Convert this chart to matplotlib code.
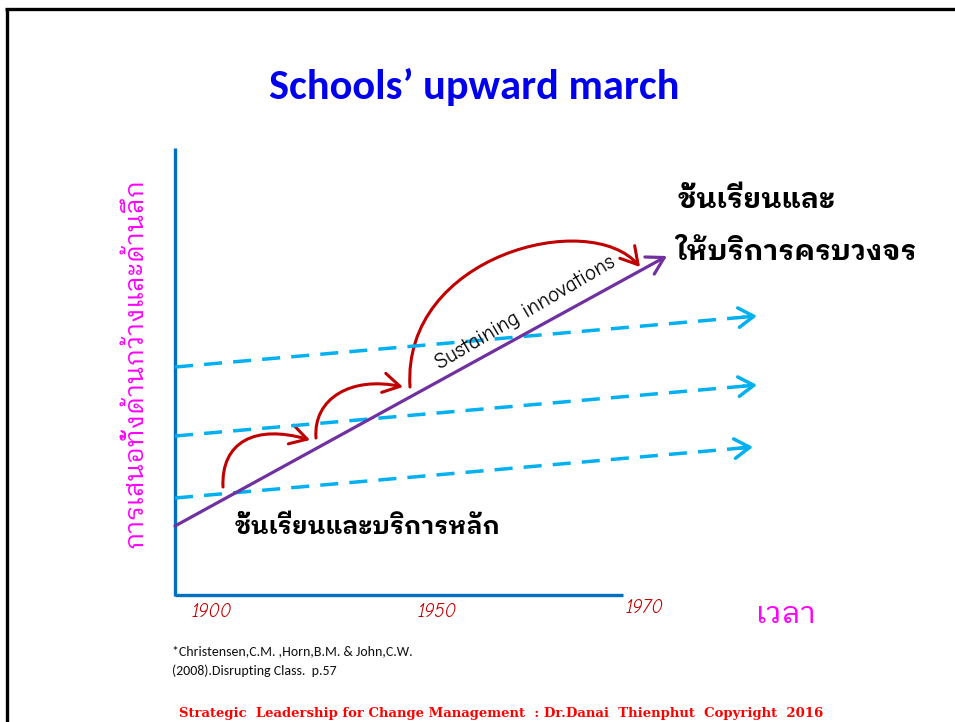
import matplotlib
matplotlib.use("Agg")
import matplotlib.pyplot as plt
from matplotlib.path import Path
from matplotlib.patches import FancyArrowPatch
from matplotlib import font_manager
import logging
logging.getLogger("matplotlib.font_manager").setLevel(logging.ERROR)

# ---------------- data (diagram coordinates, slide pixels, y downwards) -------------
title = "Schools\u2019 upward march"
y_label = "การเสนอทั้งด้านกว้างและด้านลึก"
x_label = "เวลา"
year_labels = ["1900", "1950", "1970"]
year_x = [212, 437, 645]
year_y = [612, 612, 608]

# main sustaining-innovation trend (purple)
trend_x = [175, 667]
trend_y = [526, 256]

# flat dashed trajectories (start x, start y, end x, end y)
dash_x0 = [175, 175, 175]
dash_y0 = [498, 436, 367]
dash_x1 = [753, 757, 757]
dash_y1 = [447, 385, 316]

# red jumps (cubic Bezier control points)
jump_x = [[223, 221, 255, 310],
          [316, 313, 352, 403],
          [410, 402, 590, 640]]
jump_y = [[487, 442, 424, 440],
          [438, 398, 376, 387],
          [387, 255, 208, 267]]

label_top = ["ชั้นเรียนและ", "ให้บริการครบวงจร"]
label_bottom = "ชั้นเรียนและบริการหลัก"
slope_label = "Sustaining innovations"
citation = ["*Christensen,C.M. ,Horn,B.M. & John,C.W.", "(2008).Disrupting Class.  p.57"]
footer = "Strategic  Leadership for Change Management  : Dr.Danai  Thienphut  Copyright  2016"

# ---------------- fonts -------------
_static = {}
for _f in font_manager.fontManager.ttflist:
    _static.setdefault(_f.name, []).append('[' not in _f.fname)


def pick(cands, fallback='DejaVu Sans'):
    for c in cands:
        if c in _static and any(_static[c]):
            return [c, fallback]
    return [fallback]


TITLE_FONT = pick(['Carlito', 'Lato', 'Open Sans'])
THAI_FONT = pick(['IBM Plex Sans Thai Looped', 'Loma', 'Noto Sans Thai Looped'])
COMIC_FONT = pick(['Comic Neue', 'Comic Relief', 'Short Stack', 'Patrick Hand', 'Indie Flower'])
HAND_FONT = COMIC_FONT
FOOT_FONT = ['DejaVu Serif']

W, H = 955, 722
fig = plt.figure(figsize=(W / 100, H / 100), dpi=100)
ax = fig.add_axes([0, 0, 1, 1])
ax.set_xlim(0, W)
ax.set_ylim(H, 0)
ax.axis('off')

# slide frame
ax.plot([5, W], [9, 9], color='black', lw=2.4, solid_capstyle='butt')
ax.plot([7, 7], [9, H], color='black', lw=2.4, solid_capstyle='butt')

# axes of the diagram
AX_BLUE = '#0070C0'
ax.plot([175, 175], [148, 596], color=AX_BLUE, lw=2.4, solid_capstyle='butt')
ax.plot([175, 623], [594.5, 594.5], color=AX_BLUE, lw=2.4, solid_capstyle='butt')

# dashed flat lines with open arrowheads
CYAN = '#00B0F0'
for x0, y0, x1, y1 in zip(dash_x0, dash_y0, dash_x1, dash_y1):
    dx, dy = x1 - x0, y1 - y0
    L = (dx ** 2 + dy ** 2) ** 0.5
    ux, uy = dx / L, dy / L
    ax.plot([x0, x1 - 4 * ux], [y0, y1 - 4 * uy], color=CYAN, lw=2.5,
            dashes=(5.2, 3.2), solid_capstyle='butt')
    ax.annotate('', xy=(x1, y1), xytext=(x1 - 14 * ux, y1 - 14 * uy),
                arrowprops=dict(arrowstyle='->,head_length=0.55,head_width=0.35',
                                color=CYAN, lw=2.5, shrinkA=0, shrinkB=0,
                                mutation_scale=20))

# purple trend arrow
PURPLE = '#7030A0'
ax.annotate('', xy=(trend_x[1], trend_y[1]), xytext=(trend_x[0], trend_y[0]),
            arrowprops=dict(arrowstyle='->,head_length=0.6,head_width=0.35',
                            color=PURPLE, lw=2.3, shrinkA=0, shrinkB=0,
                            mutation_scale=20))

# red jump arrows
RED = '#C00000'
codes = [Path.MOVETO, Path.CURVE4, Path.CURVE4, Path.CURVE4]
for xs, ys in zip(jump_x, jump_y):
    p = Path(list(zip(xs, ys)), codes)
    arr = FancyArrowPatch(path=p, arrowstyle='->,head_length=0.6,head_width=0.35',
                          color=RED, lw=2.2, mutation_scale=20)
    ax.add_patch(arr)

# texts
ax.text(474, 87, title, ha='center', va='center', fontsize=30.5, fontweight='bold',
        color='#0000EE', family=TITLE_FONT)
ax.text(135, 363, y_label, ha='center', va='center', rotation=90, fontsize=18.5,
        color='#FF00FF', family=THAI_FONT)
ax.text(786, 614, x_label, ha='center', va='center', fontsize=22,
        color='#FF00FF', family=THAI_FONT)
for lab, xx, yy in zip(year_labels, year_x, year_y):
    ax.text(xx, yy, lab, ha='center', va='center', fontsize=13.5, color=RED,
            style='italic', family=HAND_FONT)

ax.text(677, 200, label_top[0], ha='left', va='center', fontsize=20.3,
        fontweight='bold', color='black', family=THAI_FONT)
ax.text(675, 252, label_top[1], ha='left', va='center', fontsize=20.3,
        fontweight='bold', color='black', family=THAI_FONT)
ax.text(235, 527, label_bottom, ha='left', va='center', fontsize=17.8,
        fontweight='bold', color='black', family=THAI_FONT)

ax.text(525, 313, slope_label, ha='center', va='center', rotation=30.5,
        rotation_mode='anchor', fontsize=15.5, color='black', family=COMIC_FONT)

ax.text(172, 651, citation[0], ha='left', va='center', fontsize=10,
        color='#111111', family=TITLE_FONT)
ax.text(172, 671, citation[1], ha='left', va='center', fontsize=10,
        color='#111111', family=TITLE_FONT)

ax.text(501, 714, footer, ha='center', va='center', fontsize=9.5, fontweight='bold',
        color='#FF0000', family=FOOT_FONT)

fig.savefig("out.png", dpi=100)
